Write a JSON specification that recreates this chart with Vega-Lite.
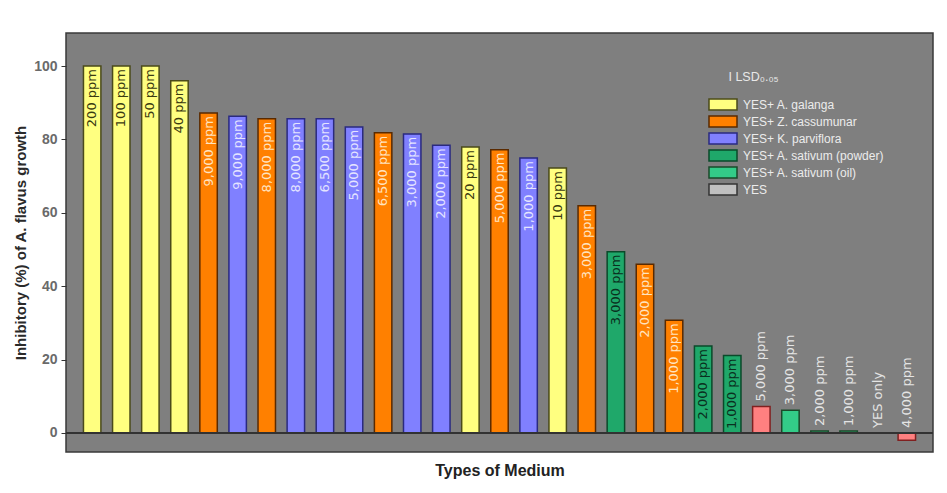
{
  "$schema": "https://vega.github.io/schema/vega-lite/v6.json",
  "width": 867,
  "height": 419,
  "autosize": {"type": "none"},
  "padding": {"left": 66, "top": 33, "right": 14, "bottom": 41},
  "background": "white",
  "config": {
    "view": {"fill": "#7f7f7f", "stroke": "#3a3a3a", "strokeWidth": 1.5},
    "font": "Liberation Sans"
  },
  "data": {
    "values": [
      {"i": 1, "label": "200 ppm", "v": 100, "cat": "YES+ A. galanga"},
      {"i": 2, "label": "100 ppm", "v": 100, "cat": "YES+ A. galanga"},
      {"i": 3, "label": "50 ppm", "v": 100, "cat": "YES+ A. galanga"},
      {"i": 4, "label": "40 ppm", "v": 96, "cat": "YES+ A. galanga"},
      {"i": 5, "label": "9,000 ppm", "v": 87.2, "cat": "YES+ Z. cassumunar"},
      {"i": 6, "label": "9,000 ppm", "v": 86.3, "cat": "YES+ K. parviflora"},
      {"i": 7, "label": "8,000 ppm", "v": 85.6, "cat": "YES+ Z. cassumunar"},
      {"i": 8, "label": "8,000 ppm", "v": 85.6, "cat": "YES+ K. parviflora"},
      {"i": 9, "label": "6,500 ppm", "v": 85.6, "cat": "YES+ K. parviflora"},
      {"i": 10, "label": "5,000 ppm", "v": 83.4, "cat": "YES+ K. parviflora"},
      {"i": 11, "label": "6,500 ppm", "v": 81.8, "cat": "YES+ Z. cassumunar"},
      {"i": 12, "label": "3,000 ppm", "v": 81.5, "cat": "YES+ K. parviflora"},
      {"i": 13, "label": "2,000 ppm", "v": 78.4, "cat": "YES+ K. parviflora"},
      {"i": 14, "label": "20 ppm", "v": 77.9, "cat": "YES+ A. galanga"},
      {"i": 15, "label": "5,000 ppm", "v": 77.2, "cat": "YES+ Z. cassumunar"},
      {"i": 16, "label": "1,000 ppm", "v": 74.9, "cat": "YES+ K. parviflora"},
      {"i": 17, "label": "10 ppm", "v": 72.2, "cat": "YES+ A. galanga"},
      {"i": 18, "label": "3,000 ppm", "v": 61.9, "cat": "YES+ Z. cassumunar"},
      {"i": 19, "label": "3,000 ppm", "v": 49.4, "cat": "YES+ A. sativum (powder)"},
      {"i": 20, "label": "2,000 ppm", "v": 46, "cat": "YES+ Z. cassumunar"},
      {"i": 21, "label": "1,000 ppm", "v": 30.7, "cat": "YES+ Z. cassumunar"},
      {"i": 22, "label": "2,000 ppm", "v": 23.7, "cat": "YES+ A. sativum (powder)"},
      {"i": 23, "label": "1,000 ppm", "v": 21.1, "cat": "YES+ A. sativum (powder)"},
      {"i": 24, "label": "5,000 ppm", "v": 7.2, "cat": "other"},
      {"i": 25, "label": "3,000 ppm", "v": 6.2, "cat": "YES+ A. sativum (oil)"},
      {"i": 26, "label": "2,000 ppm", "v": 0.5, "cat": "YES+ A. sativum (oil)"},
      {"i": 27, "label": "1,000 ppm", "v": 0.5, "cat": "YES+ A. sativum (oil)"},
      {"i": 28, "label": "YES only", "v": 0, "cat": "YES"},
      {"i": 29, "label": "4,000 ppm", "v": -2, "cat": "other"}
    ]
  },
  "encoding": {
    "x": {
      "field": "i",
      "type": "ordinal",
      "scale": {"paddingInner": 0.4, "paddingOuter": 0.6},
      "axis": {
        "title": "Types of Medium",
        "labels": false,
        "ticks": false,
        "domain": false,
        "titleFontSize": 16,
        "titleFontWeight": "bold",
        "titleColor": "#222222",
        "titlePadding": 10
      }
    }
  },
  "layer": [
    {
      "mark": {"type": "bar", "strokeWidth": 1.5},
      "encoding": {
        "y": {
          "field": "v",
          "type": "quantitative",
          "scale": {"domain": [-5.2, 109], "nice": false, "zero": false},
          "axis": {
            "title": "Inhibitory (%) of A. flavus growth",
            "values": [0, 20, 40, 60, 80, 100],
            "grid": false,
            "domain": false,
            "tickColor": "#333333",
            "tickSize": 5,
            "labelFontSize": 14,
            "labelFontWeight": "bold",
            "labelColor": "#6a6a6a",
            "labelPadding": 4,
            "titleFontSize": 15,
            "titleFontWeight": "bold",
            "titleColor": "#2a2a2a",
            "titlePadding": 5
          }
        },
        "y2": {"datum": 0},
        "fill": {
          "field": "cat",
          "type": "nominal",
          "scale": {
            "domain": ["YES+ A. galanga", "YES+ Z. cassumunar", "YES+ K. parviflora", "YES+ A. sativum (powder)", "YES+ A. sativum (oil)", "YES", "other"],
            "range": ["#ffff80", "#ff8000", "#8080ff", "#1fa86a", "#33cc88", "#c0c0c0", "#ff8080"]
          },
          "legend": {
            "values": ["YES+ A. galanga", "YES+ Z. cassumunar", "YES+ K. parviflora", "YES+ A. sativum (powder)", "YES+ A. sativum (oil)", "YES"],
            "title": "\u2800 I LSD₀.₀₅",
            "orient": "none",
            "legendX": 649,
            "legendY": 38,
            "padding": 0,
            "titleFontSize": 12.5,
            "titleFontWeight": "normal",
            "titleColor": "#e8e8e8",
            "titlePadding": 13,
            "labelFontSize": 12,
            "labelColor": "#ececec",
            "labelOffset": 12,
            "symbolType": "M-2,-0.8H2V0.8H-2Z",
            "symbolSize": 196,
            "symbolStrokeColor": "#333333",
            "symbolStrokeWidth": 1.5,
            "rowPadding": -1
          }
        },
        "stroke": {
          "field": "cat",
          "type": "nominal",
          "scale": {
            "domain": ["YES+ A. galanga", "YES+ Z. cassumunar", "YES+ K. parviflora", "YES+ A. sativum (powder)", "YES+ A. sativum (oil)", "YES", "other"],
            "range": ["#4a4a1a", "#5a2a00", "#2a2a80", "#0a4a2a", "#1a4a2a", "#333333", "#802020"]
          },
          "legend": null
        }
      }
    },
    {
      "mark": {"type": "rule", "color": "#333333", "strokeWidth": 1.5},
      "encoding": {"y": {"datum": 0}, "x": null}
    },
    {
      "transform": [{"filter": "datum.v >= 15"}],
      "mark": {"type": "text", "angle": 270, "align": "right", "baseline": "middle", "dx": -3, "fontSize": 13, "font": "DejaVu Sans"},
      "encoding": {
        "y": {"field": "v", "type": "quantitative"},
        "text": {"field": "label"},
        "color": {
          "field": "cat",
          "type": "nominal",
          "scale": {
            "domain": ["YES+ A. galanga", "YES+ Z. cassumunar", "YES+ K. parviflora", "YES+ A. sativum (powder)"],
            "range": ["#3a3a10", "#ffe4c0", "#e4e4ff", "#0a3020"]
          },
          "legend": null
        }
      }
    },
    {
      "transform": [{"filter": "datum.v < 15"}, {"calculate": "max(datum.v, 0)", "as": "ly"}],
      "mark": {"type": "text", "angle": 270, "align": "left", "baseline": "middle", "dx": 5, "fontSize": 13, "font": "DejaVu Sans", "color": "#e4e4e4"},
      "encoding": {
        "y": {"field": "ly", "type": "quantitative"},
        "text": {"field": "label"}
      }
    }
  ]
}
